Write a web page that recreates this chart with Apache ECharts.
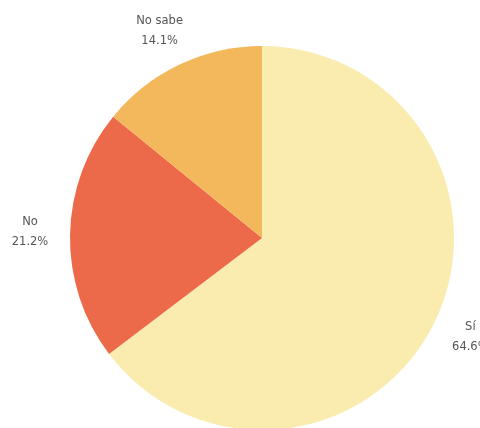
<!DOCTYPE html>
<html>
<head>
<meta charset="utf-8">
<script src="https://cdn.jsdelivr.net/npm/echarts@6/dist/echarts.min.js"></script>
<style>
  html, body { margin: 0; padding: 0; background: #fff; }
  #chart { width: 480px; height: 428px; }
</style>
</head>
<body>
<div id="chart"></div>
<script>
const categories = ["Sí", "No", "No sabe"];
const values = [64.6, 21.2, 14.1];
const colors = ["#f9ecae", "#ec6a4a", "#f4b85c"];

const chart = echarts.init(document.getElementById("chart"));

chart.setOption({
  animation: false,
  series: [
    {
      type: "pie",
      center: [262, 238],
      radius: 192,
      startAngle: 90,
      clockwise: true,
      avoidLabelOverlap: false,
      data: categories.map((name, i) => ({
        name: name,
        value: values[i],
        itemStyle: { color: colors[i] },
      })),
      label: {
        show: true,
        position: "outside",
        formatter: "{b}\n{c}%",
        color: "#555",
        fontFamily: "DejaVu Sans",
        fontSize: 11.5,
        lineHeight: 20,
      },
      labelLine: { show: false, length: 35, length2: 0 },
      labelLayout: { align: "center", verticalAlign: "middle", dy: -2 },
      emphasis: { disabled: true },
    },
  ],
});
</script>
</body>
</html>
